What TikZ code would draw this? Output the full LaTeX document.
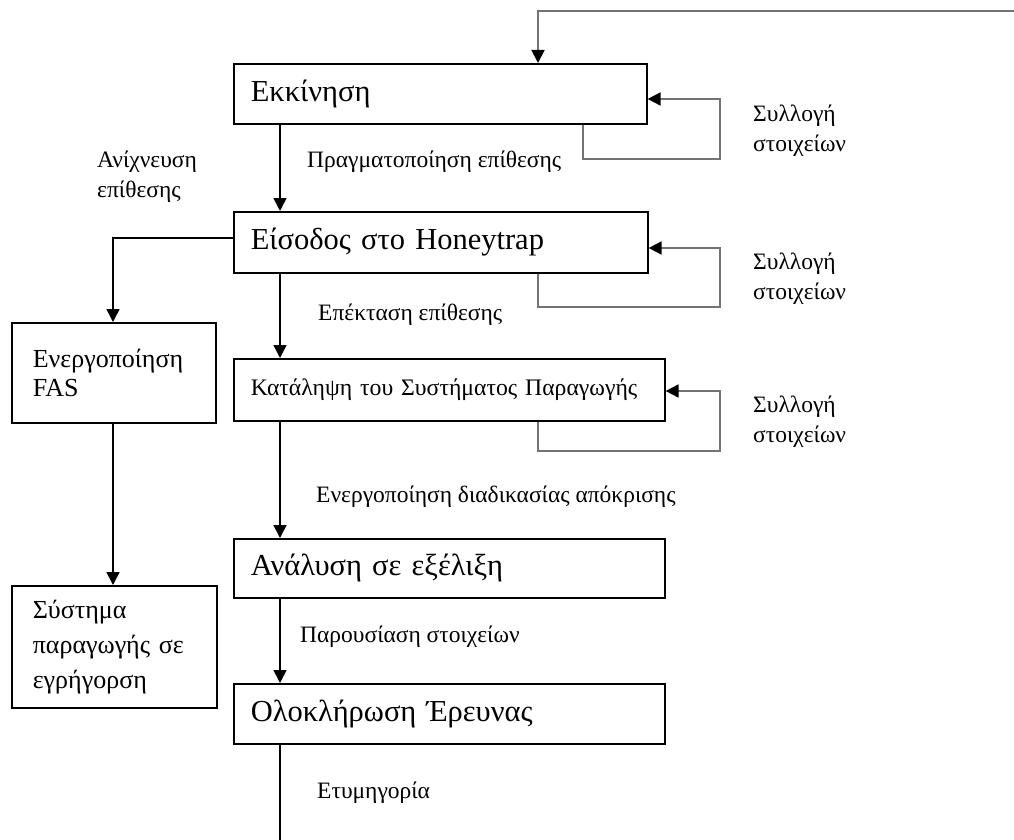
\documentclass[tikz,border=0pt]{standalone}
\usepackage{fontspec}
\setmainfont{Liberation Serif}
\usetikzlibrary{arrows.meta,calc}

\tikzset{
  box/.style={draw=black, line width=1.6pt, rectangle, anchor=north west,
              inner xsep=17pt, inner ysep=0pt, align=left},
  bigtxt/.style={font=\fontsize{30.5}{34}\selectfont},
  midtxt/.style={font=\fontsize{23.7}{30}\selectfont},
  lbl/.style={anchor=base west, inner sep=0pt, align=left,
              font=\fontsize{23.5}{30}\selectfont},
  flow/.style={draw=black, line width=1.6pt,
               -{Triangle[length=13pt,width=13pt]}},
  plain/.style={draw=black, line width=1.6pt},
  fb/.style={draw=black!55, line width=1.8pt,
             -{Triangle[length=13pt,width=13pt,fill=black,color=black]}}
}

\begin{document}
\begin{tikzpicture}[x=1pt,y=-1pt]
\useasboundingbox (0,0) rectangle (1014,840);

% main column of stages
\node[box,bigtxt,text width=379pt,minimum height=60pt]  (start)  at (233,63)  {Εκκίνηση};
\node[box,bigtxt,text width=380pt,minimum height=61pt]  (entry)  at (233,211) {Είσοδος στο Honeytrap};
\node[box,midtxt,text width=397pt,minimum height=62pt]  (seize)  at (233,358) {Κατάληψη του Συστήματος Παραγωγής};
\node[box,bigtxt,text width=397pt,minimum height=59pt]  (anal)   at (233,538) {Ανάλυση σε εξέλιξη};
\node[box,bigtxt,text width=397pt,minimum height=60pt]  (done)   at (233,683) {Ολοκλήρωση Έρευνας};

% side column
\node[box,inner xsep=21pt,text width=162pt,minimum height=100pt,
      font=\fontsize{26}{29}\selectfont] (fas) at (11,322) {Ενεργοποίηση\\FAS};
\node[box,inner xsep=21pt,text width=163pt,minimum height=122pt,
      font=\fontsize{26}{35}\selectfont] (alert) at (11,585) {Σύστημα\\παραγωγής σε\\εγρήγορση};

% helper coordinates
\coordinate (spine) at (280,0);
\coordinate (side)  at (113,0);
\coordinate (topR)  at (1014,11);
\coordinate (topX)  at (538,11);
\coordinate (bottom) at (280,840);
\coordinate (l1) at (583,159);  \coordinate (l1r) at (720,159); \coordinate (l1in) at (0,99);
\coordinate (l2) at (538,307);  \coordinate (l2r) at (720,307); \coordinate (l2in) at (0,248);
\coordinate (l3) at (538,451);  \coordinate (l3r) at (720,451); \coordinate (l3in) at (0,391);
\coordinate (br) at (0,238);

% feedback from the top
\draw[fb] (topR) -- (topX) -- (start.north -| topX);

% main flow
\draw[flow] (start.south -| spine) -- (entry.north -| spine);
\draw[flow] (entry.south -| spine) -- (seize.north -| spine);
\draw[flow] (seize.south -| spine) -- (anal.north -| spine);
\draw[flow] (anal.south -| spine)  -- (done.north -| spine);
\draw[plain] (done.south -| spine) -- (bottom);

% detection branch
\draw[flow] (entry.west |- br) -| (fas.north -| side);
\draw[flow] (fas.south -| side) -- (alert.north -| side);

% data collection loops
\draw[fb] (start.south -| l1) |- (l1r) |- (start.east |- l1in);
\draw[fb] (entry.south -| l2) |- (l2r) |- (entry.east |- l2in);
\draw[fb] (seize.south -| l3) |- (l3r) |- (seize.east |- l3in);

% labels (multi-line ones sit on the baseline of their last line)
\node[lbl] (t1) at (307,167) {Πραγματοποίηση επίθεσης};
\node[lbl] (t2) at (97,197)  {Ανίχνευση\\επίθεσης};
\node[lbl] (t3) at (318,320) {Επέκταση επίθεσης};
\node[lbl] (t4) at (316,502) {Ενεργοποίηση διαδικασίας απόκρισης};
\node[lbl] (t5) at (300,642) {Παρουσίαση στοιχείων};
\node[lbl] (t6) at (317,798) {Ετυμηγορία};
\node[lbl] (s1) at (753,151) {Συλλογή\\στοιχείων};
\node[lbl] (s2) at (753,299) {Συλλογή\\στοιχείων};
\node[lbl] (s3) at (753,442) {Συλλογή\\στοιχείων};
\end{tikzpicture}
\end{document}
